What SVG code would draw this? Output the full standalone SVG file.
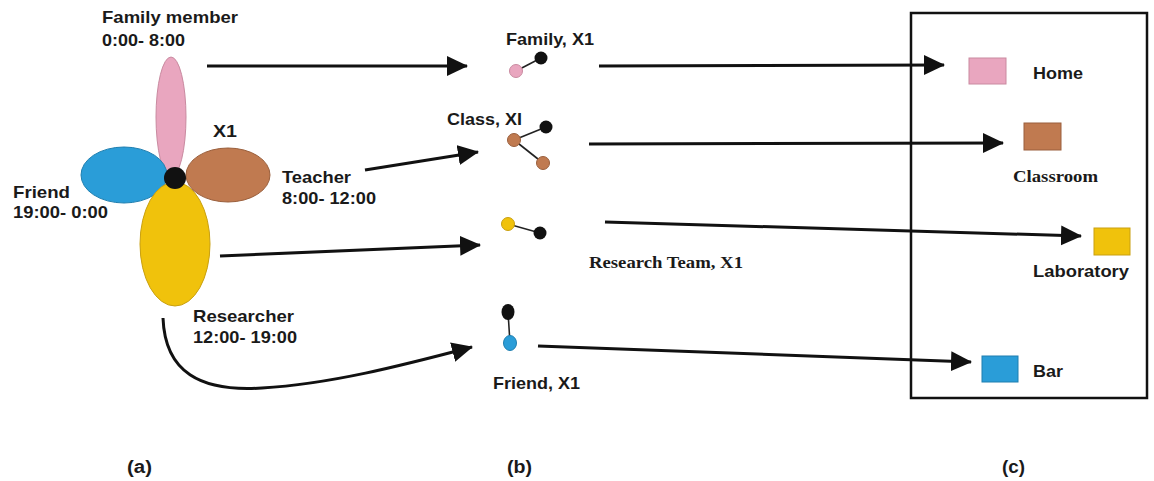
<svg xmlns="http://www.w3.org/2000/svg" width="1154" height="481" viewBox="0 0 1154 481">
<style>
.s{font-family:"Liberation Sans",Arial,sans-serif;font-weight:bold;font-size:17px;fill:#1a1a1a}
.r{font-family:"Liberation Serif","Times New Roman",serif;font-weight:bold;font-size:17px;fill:#1a1a1a}
.p{font-family:"Liberation Sans Narrow","Liberation Sans",sans-serif;font-weight:bold;font-size:18px;fill:#1a1a1a}
.ln{stroke:#111;stroke-width:3;fill:none;marker-end:url(#ah)}
.thin{stroke:#222;stroke-width:1.6}
.pink{fill:#E9A6BF;stroke:#c98aa0;stroke-width:1}
.blue{fill:#2A9DD8;stroke:#1f7fb0;stroke-width:1}
.brown{fill:#C07A50;stroke:#9a5f3c;stroke-width:1}
.yellow{fill:#F0C20C;stroke:#c9a010;stroke-width:1}
.blk{fill:#111}
</style>
<defs>
<marker id="ah" markerUnits="userSpaceOnUse" markerWidth="22" markerHeight="22" refX="20" refY="10" orient="auto">
<path d="M0,0 L21,10 L0,20 Z" fill="#111"/>
</marker>
</defs>
<rect width="1154" height="481" fill="#fff"/>

<g id="flower">
<ellipse class="pink" cx="171" cy="117" rx="15" ry="60"/>
<ellipse class="blue" cx="124" cy="175" rx="43" ry="28"/>
<ellipse class="brown" cx="228" cy="175" rx="42" ry="27"/>
<ellipse class="yellow" cx="175" cy="244" rx="35" ry="62"/>
<circle class="blk" cx="175" cy="178" r="11"/>
</g>
<g id="labels-a">
<text class="s" x="102" y="23" textLength="136" lengthAdjust="spacingAndGlyphs">Family member</text>
<text class="s" x="102" y="46" textLength="83" lengthAdjust="spacingAndGlyphs">0:00- 8:00</text>
<text class="s" x="213" y="137" textLength="24" lengthAdjust="spacingAndGlyphs">X1</text>
<text class="s" x="13" y="198" textLength="57" lengthAdjust="spacingAndGlyphs">Friend</text>
<text class="s" x="13" y="218" textLength="95" lengthAdjust="spacingAndGlyphs">19:00- 0:00</text>
<text class="s" x="282" y="183" textLength="69" lengthAdjust="spacingAndGlyphs">Teacher</text>
<text class="s" x="282" y="204" textLength="94" lengthAdjust="spacingAndGlyphs">8:00- 12:00</text>
<text class="s" x="193" y="322" textLength="101" lengthAdjust="spacingAndGlyphs">Researcher</text>
<text class="s" x="193" y="343" textLength="104" lengthAdjust="spacingAndGlyphs">12:00- 19:00</text>
</g>

<g id="family-b">
<line class="thin" x1="516" y1="71" x2="541" y2="58"/>
<circle class="pink" cx="516" cy="71" r="6.5"/>
<circle class="blk" cx="541" cy="58" r="6.5"/>
<text class="s" x="506" y="45" textLength="88" lengthAdjust="spacingAndGlyphs">Family, X1</text>
</g>
<g id="class-b">
<line class="thin" x1="514" y1="140" x2="546" y2="127"/>
<line class="thin" x1="514" y1="140" x2="543" y2="163"/>
<circle class="brown" cx="514" cy="140" r="6.5"/>
<circle class="blk" cx="546" cy="127" r="6.5"/>
<circle class="brown" cx="543" cy="163" r="6.5"/>
<text class="s" x="447" y="125" textLength="75" lengthAdjust="spacingAndGlyphs">Class, XI</text>
</g>
<g id="research-b">
<line class="thin" x1="508" y1="224" x2="540" y2="233"/>
<circle class="yellow" cx="508" cy="224" r="6.5"/>
<circle class="blk" cx="540" cy="233" r="6.5"/>
<text class="r" x="589" y="268" textLength="154" lengthAdjust="spacingAndGlyphs">Research Team, X1</text>
</g>
<g id="friend-b">
<line class="thin" x1="508" y1="312" x2="510" y2="343"/>
<ellipse class="blk" cx="508" cy="312" rx="6.5" ry="8"/>
<ellipse class="blue" cx="510" cy="343" rx="6.5" ry="7.5"/>
<text class="s" x="493" y="389" textLength="87" lengthAdjust="spacingAndGlyphs">Friend, X1</text>
</g>

<g id="places">
<rect x="911" y="13" width="236" height="385" fill="none" stroke="#111" stroke-width="2.5"/>
<g id="home">
<rect x="969" y="58" width="37" height="26" fill="#E9A6BF" stroke="#c98aa0" stroke-width="1"/>
<text class="s" x="1033" y="79" textLength="50" lengthAdjust="spacingAndGlyphs">Home</text>
</g>
<g id="classroom">
<rect x="1024" y="123" width="37" height="27" fill="#C07A50" stroke="#9a5f3c" stroke-width="1"/>
<text class="r" x="1013" y="182" textLength="85" lengthAdjust="spacingAndGlyphs">Classroom</text>
</g>
<g id="laboratory">
<rect x="1094" y="228" width="36" height="27" fill="#F0C20C" stroke="#c9a010" stroke-width="1"/>
<text class="s" x="1033" y="277" textLength="96" lengthAdjust="spacingAndGlyphs">Laboratory</text>
</g>
<g id="bar">
<rect x="982" y="356" width="36" height="26" fill="#2A9DD8" stroke="#1f7fb0" stroke-width="1"/>
<text class="s" x="1033" y="377" textLength="30" lengthAdjust="spacingAndGlyphs">Bar</text>
</g>
</g>

<g id="connectors">
<line class="ln" x1="207" y1="66" x2="467" y2="66"/>
<line class="ln" x1="365" y1="170" x2="478" y2="152"/>
<line class="ln" x1="220" y1="256" x2="480" y2="245"/>
<path class="ln" d="M163,318 C165,372 200,392 262,388 C330,384 400,366 472,347"/>
<line class="ln" x1="599" y1="66" x2="944" y2="65"/>
<line class="ln" x1="589" y1="144" x2="1003" y2="143"/>
<line class="ln" x1="605" y1="222" x2="1081" y2="236"/>
<line class="ln" x1="538" y1="346" x2="971" y2="362"/>
</g>

<g id="captions">
<text class="p" x="127" y="473" textLength="25" lengthAdjust="spacingAndGlyphs">(a)</text>
<text class="p" x="507" y="473" textLength="25" lengthAdjust="spacingAndGlyphs">(b)</text>
<text class="p" x="1002" y="473" textLength="23" lengthAdjust="spacingAndGlyphs">(c)</text>
</g>
</svg>
